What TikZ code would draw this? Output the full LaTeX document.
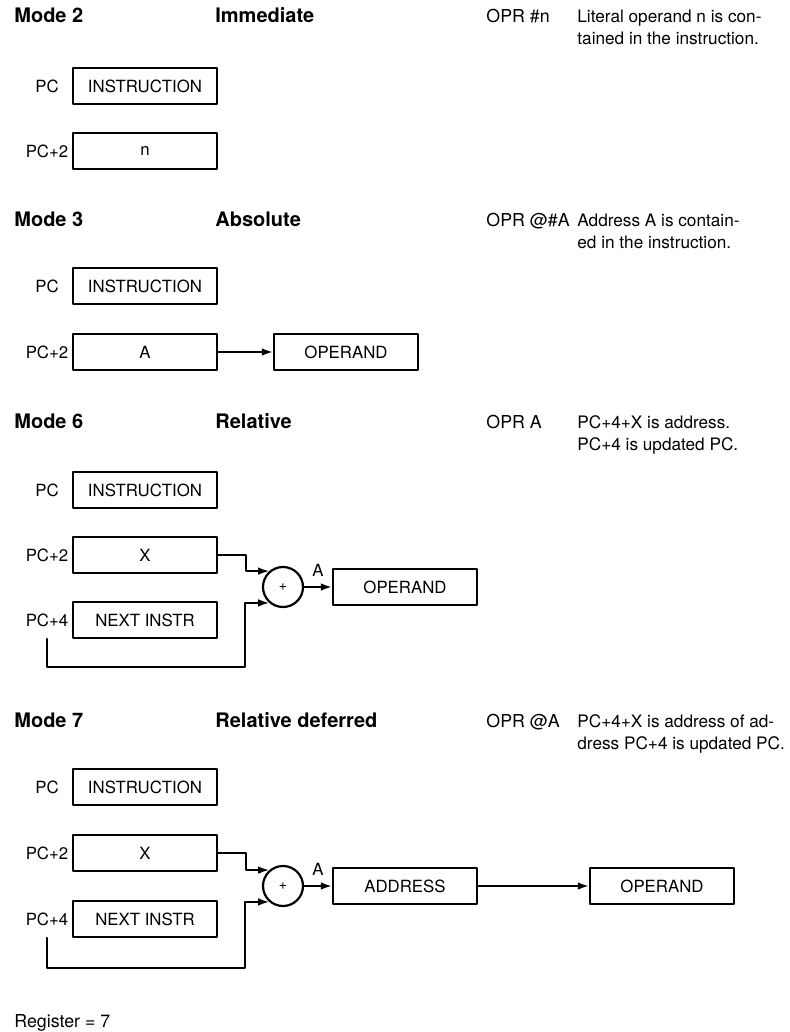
\documentclass[tikz,border=0pt]{standalone}
\usepackage{fontspec}
\setmainfont{TeX Gyre Heros}
\usetikzlibrary{arrows.meta,positioning}
\tikzset{
  every picture/.append style={line cap=round,line join=round},
  am title/.style={anchor=base west,inner sep=0pt,font=\fontsize{10}{12}\selectfont\bfseries},
  am text/.style={anchor=base west,inner sep=0pt,align=left,font=\fontsize{8.9}{11}\selectfont},
  am note/.style={am text,font=\fontsize{8.6}{11}\selectfont},
  am word/.style={inner sep=0pt,font=\fontsize{8.4}{10}\selectfont},
  am box/.style={draw,line width=1.2pt,minimum width=72pt,minimum height=18pt,inner sep=0pt,font=\fontsize{8.4}{10}\selectfont},
  am adder/.style={draw,circle,line width=1.1pt,minimum size=20pt,inner sep=0pt,font=\fontsize{7}{8}\selectfont},
  am wire/.style={line width=0.9pt},
  am arrow/.style={line width=0.9pt,-{Latex[length=5.5pt,width=3.8pt]}}
}
\begin{document}
\begin{tikzpicture}[x=0.5pt,y=-0.5pt]
  \useasboundingbox (0,0) rectangle (790,1032);

  % Mode 2
  \node[am title] (m2) at (14,23) {Mode 2};
  \node[am title] (m2name) at (215,23) {Immediate};
  \node[am text] (m2opr) at (486,23) {OPR \#n};
  \node[am note] (m2note) at (577,45) {Literal operand n is con-\\tained in the instruction.};
  \node[am box] (m2ins) at (145,86) {INSTRUCTION};
  \node[am box] (m2n) at (145,151) {n};
  \node[am word] (m2l0) at (47,86) {PC};
  \node[am word] (m2l2) at (47,151) {PC+2};

  % Mode 3
  \node[am title] (m3) at (14,227) {Mode 3};
  \node[am title] (m3name) at (215,227) {Absolute};
  \node[am text] (m3opr) at (486,227) {OPR @\#A};
  \node[am note] (m3note) at (577,249) {Address A is contain-\\ed in the instruction.};
  \node[am box] (m3ins) at (145,286) {INSTRUCTION};
  \node[am box] (m3a) at (145,352) {A};
  \node[am box] (m3op) at (346,352) {OPERAND};
  \node[am word] (m3l0) at (47,286) {PC};
  \node[am word] (m3l2) at (47,352) {PC+2};
  \draw[am arrow] (m3a) -- (m3op);

  % Mode 6
  \node[am title] (m6) at (14,428) {Mode 6};
  \node[am title] (m6name) at (215,428) {Relative};
  \node[am text] (m6opr) at (486,428) {OPR A};
  \node[am note] (m6note) at (577,450) {PC+4+X is address.\\PC+4 is updated PC.};
  \node[am box] (m6ins) at (145,490) {INSTRUCTION};
  \node[am box] (m6x) at (145,555) {X};
  \node[am box] (m6next) at (145,620) {NEXT INSTR};
  \node[am adder] (m6add) at (283,587) {+};
  \node[am box] (m6op) at (405,587) {OPERAND};
  \node[am word] (m6l0) at (47,490) {PC};
  \node[am word] (m6l2) at (47,555) {PC+2};
  \node[am word] (m6l4) at (47,620) {PC+4};
  \coordinate (m6loop) at (245,667);
  \draw[am arrow] (m6x.east) -- ++(28,0) |- (m6add.131);
  \draw[am arrow] ([yshift=-6pt]m6l4.south) |- (m6loop) |- (m6add.229);
  \draw[am arrow] (m6add) -- node[am word,above=5pt] {A} (m6op);

  % Mode 7
  \node[am title] (m7) at (14,727) {Mode 7};
  \node[am title] (m7name) at (215,727) {Relative deferred};
  \node[am text] (m7opr) at (486,727) {OPR @A};
  \node[am note] (m7note) at (577,749) {PC+4+X is address of ad-\\dress PC+4 is updated PC.};
  \node[am box] (m7ins) at (145,787) {INSTRUCTION};
  \node[am box] (m7x) at (145,853) {X};
  \node[am box] (m7next) at (145,919) {NEXT INSTR};
  \node[am adder] (m7add) at (283,886) {+};
  \node[am box] (m7adr) at (405,886) {ADDRESS};
  \node[am box] (m7op) at (662,886) {OPERAND};
  \node[am word] (m7l0) at (47,787) {PC};
  \node[am word] (m7l2) at (47,853) {PC+2};
  \node[am word] (m7l4) at (47,919) {PC+4};
  \coordinate (m7loop) at (245,968);
  \draw[am arrow] (m7x.east) -- ++(28,0) |- (m7add.131);
  \draw[am arrow] ([yshift=-6pt]m7l4.south) |- (m7loop) |- (m7add.229);
  \draw[am arrow] (m7add) -- node[am word,above=5pt] {A} (m7adr);
  \draw[am arrow] (m7adr) -- (m7op);

  \node[am text] (reg) at (14,1027) {Register = 7};
\end{tikzpicture}
\end{document}
